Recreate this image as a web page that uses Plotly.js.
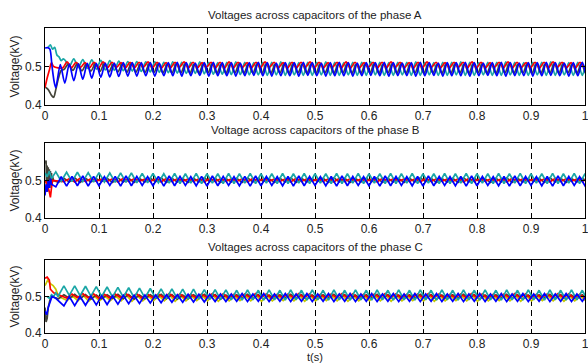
<!DOCTYPE html>
<html><head><meta charset="utf-8">
<script src="https://cdn.plot.ly/plotly-3.0.1.min.js"></script>
<style>html,body{margin:0;padding:0;background:#fff}#chart{width:588px;height:364px}</style>
</head><body><div id="chart"></div>
<script>
// ---------- axis / text data ----------
const xTickVals = [0,0.1,0.2,0.3,0.4,0.5,0.6,0.7,0.8,0.9,1];
const xTickText = ["0","0.1","0.2","0.3","0.4","0.5","0.6","0.7","0.8","0.9","1"];
const yTickVals = [0.4,0.5];
const yTickText = ["0.4","0.5"];
const panelTitles = ["Voltages across capacitors of the phase A","Voltage across capacitors of the phase B","Voltages across capacitors of the phase C"];
const yTitle = "Voltage(kV)";
const xTitle = "t(s)";

// ---------- phase A (period 1/60 s) : start transients + per-cycle extremes ----------
const periodA = 1/60;
const aBlueTrT = [0,.005,.009,.013,.017];
const aBlueTrV = [.548,.549,.545,.50,.46];
const aBlueLo = [.445,.457,.463,.467,.470,.472,.473,.474,.475,.475,.476,.475,.476,.476,.475,.476,.477,.475,.476,.476,.475,.476,.477,.476,.475,.476,.476,.475,.477,.476,.475,.476,.476,.475,.476,.477,.476,.475,.476,.476,.475,.476,.477,.475,.476,.476,.475,.476,.477,.476,.475,.476,.476,.475,.476,.477,.476,.475,.476,.476];
const aBlueHi = [.505,.506,.507,.508,.508,.509,.509,.510,.510,.510,.510,.509,.510,.511,.510,.509,.510,.511,.510,.510,.509,.510,.511,.510,.509,.510,.510,.511,.510,.509,.510,.511,.510,.509,.510,.510,.511,.510,.509,.510,.511,.510,.509,.510,.510,.511,.510,.509,.510,.511,.510,.509,.510,.510,.511,.510,.509,.510,.511,.510];
const aCyanTrT = [.006,.010,.014,.018,.022,.026,.030,.034,.038];
const aCyanTrV = [.55,.556,.545,.55,.53,.525,.515,.52,.515];
const aCyanLo = [.500,.497,.495,.493,.491,.490,.489,.488,.487,.486,.485,.484,.483,.482,.482,.481,.480,.480,.479,.479,.478,.478,.477,.478,.477,.478,.477,.477,.478,.477,.477,.478,.477,.477,.478,.477,.477,.478,.477,.477,.478,.477,.477,.478,.477,.477,.478,.477,.477,.478,.477,.477,.478,.477,.477,.478,.477,.477,.478,.477];
const aCyanHi = [.520,.518,.517,.516,.515,.514,.513,.513,.512,.512,.511,.512,.511,.511,.512,.511,.510,.511,.512,.511,.510,.511,.511,.512,.511,.510,.511,.511,.512,.511,.510,.511,.511,.512,.511,.510,.511,.511,.512,.511,.510,.511,.511,.512,.511,.510,.511,.511,.512,.511,.510,.511,.511,.512,.511,.510,.511,.511,.512,.511];
const aGrayTrT = [0,.006,.012,.016,.020,.025,.030];
const aGrayTrV = [.447,.44,.425,.42,.44,.47,.49];
const aGrayLo = [.492,.490,.489,.488,.487,.486,.486,.485,.485,.484,.484,.483,.483,.483,.482,.482,.483,.482,.482,.483,.482,.483,.482,.482,.483,.482,.483,.482,.482,.483,.482,.483,.482,.482,.483,.482,.483,.482,.482,.483,.482,.483,.482,.482,.483,.482,.483,.482,.482,.483,.482,.483,.482,.482,.483,.482,.483,.482,.482,.483];
const aGrayHi = [.507,.508,.507,.508,.508,.507,.508,.509,.507,.508,.508,.507,.508,.509,.507,.508,.508,.507,.508,.509,.507,.508,.508,.507,.508,.509,.507,.508,.508,.507,.508,.509,.507,.508,.508,.507,.508,.509,.507,.508,.508,.507,.508,.509,.507,.508,.508,.507,.508,.509,.507,.508,.508,.507,.508,.509,.507,.508,.508,.507];
const aRedTrT = [0,.004,.008,.012,.016];
const aRedTrV = [.445,.47,.49,.51,.50];
const aRedLo = [.496,.497,.498,.497,.496,.497,.498,.497,.497,.498,.497,.496,.497,.498,.497,.497,.498,.497,.496,.497,.498,.497,.497,.498,.497,.496,.497,.498,.497,.497,.498,.497,.496,.497,.498,.497,.497,.498,.497,.496,.497,.498,.497,.497,.498,.497,.496,.497,.498,.497,.497,.498,.497,.496,.497,.498,.497,.497,.498,.497];
const aRedHi = [.512,.511,.510,.511,.512,.511,.510,.511,.511,.512,.511,.510,.511,.512,.511,.510,.511,.511,.512,.511,.510,.511,.512,.511,.510,.511,.511,.512,.511,.510,.511,.512,.511,.510,.511,.511,.512,.511,.510,.511,.512,.511,.510,.511,.511,.512,.511,.510,.511,.512,.511,.510,.511,.511,.512,.511,.510,.511,.512,.511];

// ---------- phase B (period 0.02 s) ----------
const periodB = 0.02;
const bBlueTrT = [0,.002,.004,.006,.008,.010,.012];
const bBlueTrV = [.46,.49,.47,.50,.48,.505,.49];
const bBlueLo = [.483,.485,.486,.485,.486,.487,.485,.486,.487,.486,.485,.486,.487,.486,.485,.486,.487,.486,.485,.486,.487,.486,.485,.486,.487,.486,.485,.486,.487,.486,.485,.486,.487,.486,.485,.486,.487,.486,.485,.486,.487,.486,.485,.486,.487,.486,.485,.486,.487,.486];
const bBlueHi = [.510,.511,.512,.511,.510,.511,.512,.511,.510,.511,.512,.511,.510,.511,.512,.511,.510,.511,.512,.511,.510,.511,.512,.511,.510,.511,.512,.511,.510,.511,.512,.511,.510,.511,.512,.511,.510,.511,.512,.511,.510,.511,.512,.511,.510,.511,.512,.511,.510,.511];
const bCyanTrT = [0,.004,.008,.012];
const bCyanTrV = [.52,.51,.525,.505];
const bCyanHi = [.523,.522,.522,.521,.521,.520,.520,.520,.519,.519,.518,.519,.518,.519,.518,.518,.519,.518,.519,.518,.518,.519,.518,.519,.518,.518,.519,.518,.519,.518,.518,.519,.518,.519,.518,.518,.519,.518,.519,.518,.518,.519,.518,.519,.518,.518,.519,.518,.519,.518];
const bCyanLo = [.498,.497,.497,.496,.496,.495,.495,.494,.494,.494,.493,.492,.493,.492,.493,.492,.492,.493,.492,.493,.492,.492,.493,.492,.493,.492,.492,.493,.492,.493,.492,.492,.493,.492,.493,.492,.492,.493,.492,.493,.492,.492,.493,.492,.493,.492,.492,.493,.492,.493];
const bGrayTrT = [0,.002,.003,.004,.005,.006,.007,.008,.009,.010,.011,.012,.013,.014,.016];
const bGrayTrV = [.545,.553,.47,.54,.47,.535,.48,.53,.48,.525,.49,.52,.49,.51,.50];
const bGrayLo = [.495,.496,.495,.496,.497,.495,.496,.495,.496,.497,.495,.496,.495,.496,.497,.495,.496,.495,.496,.497,.495,.496,.495,.496,.497,.495,.496,.495,.496,.497,.495,.496,.495,.496,.497,.495,.496,.495,.496,.497,.495,.496,.495,.496,.497,.495,.496,.495,.496,.497];
const bGrayHi = [.506,.507,.506,.505,.506,.507,.506,.505,.506,.507,.506,.505,.506,.507,.506,.505,.506,.507,.506,.505,.506,.507,.506,.505,.506,.507,.506,.505,.506,.507,.506,.505,.506,.507,.506,.505,.506,.507,.506,.505,.506,.507,.506,.505,.506,.507,.506,.505,.506,.507];
const bRedTrT = [0,.004,.008,.010,.012,.014];
const bRedTrV = [.50,.49,.47,.455,.48,.50];
const bRedLo = [.497,.496,.497,.498,.497,.496,.497,.498,.497,.496,.497,.498,.497,.496,.497,.498,.497,.496,.497,.498,.497,.496,.497,.498,.497,.496,.497,.498,.497,.496,.497,.498,.497,.496,.497,.498,.497,.496,.497,.498,.497,.496,.497,.498,.497,.496,.497,.498,.497,.496];
const bRedHi = [.505,.506,.505,.504,.505,.506,.505,.504,.505,.506,.505,.504,.505,.506,.505,.504,.505,.506,.505,.504,.505,.506,.505,.504,.505,.506,.505,.504,.505,.506,.505,.504,.505,.506,.505,.504,.505,.506,.505,.504,.505,.506,.505,.504,.505,.506,.505,.504,.505,.506];

// ---------- phase C (period 0.02 s) ----------
const periodC = 0.02;
const cBlueTrT = [0,.003,.006,.010,.013,.020];
const cBlueTrV = [.46,.45,.47,.49,.50,.495];
const cBlueLo = [.474,.475,.476,.477,.478,.479,.480,.481,.482,.483,.484,.484,.485,.485,.486,.486,.487,.486,.487,.486,.487,.486,.487,.486,.487,.486,.487,.486,.487,.486,.487,.486,.487,.486,.487,.486,.487,.486,.487,.486,.487,.486,.487,.486,.487,.486,.487,.486,.487,.486];
const cBlueHi = [.500,.500,.501,.502,.502,.503,.503,.504,.504,.505,.505,.506,.506,.506,.507,.507,.508,.507,.508,.507,.508,.507,.508,.507,.508,.507,.508,.507,.508,.507,.508,.507,.508,.507,.508,.507,.508,.507,.508,.507,.508,.507,.508,.507,.508,.507,.508,.507,.508,.507];
const cCyanTrT = [.004,.008,.012,.016,.020,.024];
const cCyanTrV = [.50,.495,.505,.50,.51,.50];
const cCyanHi = [.529,.529,.528,.527,.526,.525,.524,.523,.522,.521,.521,.520,.520,.519,.519,.518,.517,.518,.517,.518,.517,.518,.517,.518,.517,.518,.517,.518,.517,.518,.517,.518,.517,.518,.517,.518,.517,.518,.517,.518,.517,.518,.517,.518,.517,.518,.517,.518,.517,.518];
const cCyanLo = [.503,.502,.501,.500,.499,.498,.497,.496,.495,.494,.494,.493,.493,.492,.492,.491,.490,.491,.490,.491,.490,.491,.490,.491,.490,.491,.490,.491,.490,.491,.490,.491,.490,.491,.490,.491,.490,.491,.490,.491,.490,.491,.490,.491,.490,.491,.490,.491,.490,.491];
const cGrayTrT = [0,.002,.004,.006,.009,.012];
const cGrayTrV = [.47,.43,.44,.47,.49,.50];
const cGrayLo = [.494,.495,.494,.493,.494,.495,.494,.493,.494,.495,.494,.493,.494,.495,.494,.493,.494,.495,.494,.493,.494,.495,.494,.493,.494,.495,.494,.493,.494,.495,.494,.493,.494,.495,.494,.493,.494,.495,.494,.493,.494,.495,.494,.493,.494,.495,.494,.493,.494,.495];
const cGrayHi = [.505,.506,.505,.504,.505,.506,.505,.504,.505,.506,.505,.504,.505,.506,.505,.504,.505,.506,.505,.504,.505,.506,.505,.504,.505,.506,.505,.504,.505,.506,.505,.504,.505,.506,.505,.504,.505,.506,.505,.504,.505,.506,.505,.504,.505,.506,.505,.504,.505,.506];
const cRedTrT = [0,.004,.008,.010,.013,.016];
const cRedTrV = [.55,.553,.545,.52,.515,.51];
const cRedLo = [.496,.497,.496,.495,.496,.497,.496,.495,.496,.497,.496,.495,.496,.497,.496,.495,.496,.497,.496,.495,.496,.497,.496,.495,.496,.497,.496,.495,.496,.497,.496,.495,.496,.497,.496,.495,.496,.497,.496,.495,.496,.497,.496,.495,.496,.497,.496,.495,.496,.497];
const cRedHi = [.507,.508,.507,.506,.507,.508,.507,.506,.507,.508,.507,.506,.507,.508,.507,.506,.507,.508,.507,.506,.507,.508,.507,.506,.507,.508,.507,.506,.507,.508,.507,.506,.507,.508,.507,.506,.507,.508,.507,.506,.507,.508,.507,.506,.507,.508,.507,.506,.507,.508];
const cYellowTrT = [0,.005,.010,.015,.020,.025];
const cYellowTrV = [.53,.545,.535,.53,.52,.50];
const cYellowLo = [.489,.488,.487,.488,.489,.488,.487,.488,.489,.488,.487,.488,.489,.488,.487,.488,.489,.488,.487,.488,.489,.488,.487,.488,.489,.488,.487,.488,.489,.488,.487,.488,.489,.488,.487,.488,.489,.488,.487,.488,.489,.488,.487,.488,.489,.488,.487,.488,.489,.488];
const cYellowHi = [.502,.503,.502,.501,.502,.503,.502,.501,.502,.503,.502,.501,.502,.503,.502,.501,.502,.503,.502,.501,.502,.503,.502,.501,.502,.503,.502,.501,.502,.503,.502,.501,.502,.503,.502,.501,.502,.503,.502,.501,.502,.503,.502,.501,.502,.503,.502,.501,.502,.503];

// ---------- styling ----------
const COL = {blue:'#0000ff', cyan:'#1aa6a6', gray:'#45453a', red:'#ff0000', yellow:'#c8c800'};
const FONT = 'Liberation Sans, Arial, sans-serif';

function build(trT, trV, t0, period, first, second) {
  const x = trT.slice(), y = trV.slice();
  for (let k = 0; k < first.length; k++) {
    x.push(t0 + k*period); y.push(first[k]);
    x.push(t0 + (k+0.5)*period); y.push(second[k]);
  }
  return {x, y};
}

const series = [
  [1,'cyan',aCyanTrT,aCyanTrV,0.02+1.5*periodA,periodA,aCyanLo,aCyanHi,'spline'],
  [1,'gray',aGrayTrT,aGrayTrV,0.035,periodA,aGrayLo,aGrayHi,'spline'],
  [1,'red',aRedTrT,aRedTrV,0.02+0.75*periodA,periodA,aRedLo,aRedHi,'spline'],
  [1,'blue',aBlueTrT,aBlueTrV,0.02,periodA,aBlueLo,aBlueHi,'spline'],
  [2,'gray',bGrayTrT,bGrayTrV,0.02+0.25*periodB,periodB,bGrayLo,bGrayHi,'linear'],
  [2,'red',bRedTrT,bRedTrV,0.02+0.75*periodB,periodB,bRedLo,bRedHi,'linear'],
  [2,'cyan',bCyanTrT,bCyanTrV,0.02,periodB,bCyanHi,bCyanLo,'linear'],
  [2,'blue',bBlueTrT,bBlueTrV,0.02,periodB,bBlueLo,bBlueHi,'linear'],
  [3,'yellow',cYellowTrT,cYellowTrV,0.035+0.3*periodC,periodC,cYellowLo,cYellowHi,'linear'],
  [3,'gray',cGrayTrT,cGrayTrV,0.02+0.25*periodC,periodC,cGrayLo,cGrayHi,'linear'],
  [3,'red',cRedTrT,cRedTrV,0.025+0.75*periodC,periodC,cRedLo,cRedHi,'linear'],
  [3,'cyan',cCyanTrT,cCyanTrV,0.035,periodC,cCyanHi,cCyanLo,'linear'],
  [3,'blue',cBlueTrT,cBlueTrV,0.035,periodC,cBlueLo,cBlueHi,'linear']
];

const traces = series.map(s => {
  const d = build(s[2], s[3], s[4], s[5], s[6], s[7]);
  const n = s[0] === 1 ? '' : String(s[0]);
  return {x:d.x, y:d.y, type:'scatter', mode:'lines', xaxis:'x'+n, yaxis:'y'+n,
    line:{color:COL[s[1]], width:1.7, shape:s[8], smoothing:0.8}, hoverinfo:'skip', showlegend:false};
});

const plotTop = 28, plotBot = 333, plotH = plotBot - plotTop;
const panelPx = [[28,105],[143,218],[260,333]];
const dom = p => [(plotBot - p[1])/plotH, (plotBot - p[0])/plotH];

function xAxis(anchor) {
  return {domain:[0,1], anchor:anchor, range:[0,1], tickvals:xTickVals, ticktext:xTickText,
    showgrid:true, gridcolor:'#000', griddash:'6px,4px', gridwidth:1,
    showline:true, linecolor:'#000', linewidth:1, mirror:'ticks', ticks:'inside', ticklen:4, tickcolor:'#000',
    ticklabeloverflow:'allow', automargin:false,
    tickfont:{family:FONT, size:12, color:'#222'}, zeroline:false, fixedrange:true};
}
function yAxis(anchor, p) {
  return {domain:dom(p), anchor:anchor, range:[0.4,0.6], tickvals:yTickVals, ticktext:yTickText,
    showgrid:false, showline:true, linecolor:'#000', linewidth:1, mirror:'ticks', ticks:'inside', ticklen:4, tickcolor:'#000',
    tickfont:{family:FONT, size:12, color:'#222'}, zeroline:false, fixedrange:true, automargin:false,
    title:{text:yTitle, font:{family:FONT, size:12, color:'#222'}, standoff:2}};
}

const annotations = panelTitles.map((t,i) => ({
  text:t, xref:'paper', yref:'paper', x:0.5, y:(plotBot - (panelPx[i][0]-13))/plotH,
  xanchor:'center', yanchor:'middle', showarrow:false, font:{family:FONT, size:11.5, color:'#222'}
}));
annotations.push({text:xTitle, xref:'paper', yref:'paper', x:0.5, y:(plotBot-364)/plotH,
  xanchor:'center', yanchor:'bottom', showarrow:false, borderpad:0, font:{family:FONT, size:11, color:'#222'}});

const layout = {
  width:588, height:364, margin:{l:45, r:3, t:plotTop, b:364-plotBot},
  paper_bgcolor:'#fff', plot_bgcolor:'#fff', showlegend:false,
  xaxis:xAxis('y'), yaxis:yAxis('x', panelPx[0]),
  xaxis2:xAxis('y2'), yaxis2:yAxis('x2', panelPx[1]),
  xaxis3:xAxis('y3'), yaxis3:yAxis('x3', panelPx[2]),
  annotations:annotations
};

Plotly.newPlot('chart', traces, layout, {displayModeBar:false, staticPlot:true});
</script></body></html>
